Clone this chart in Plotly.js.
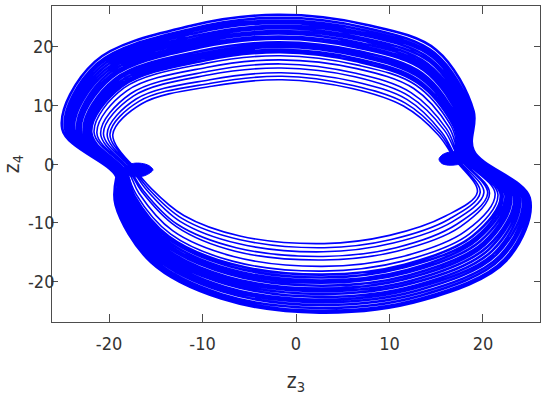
<!DOCTYPE html>
<html>
<head>
<meta charset="utf-8">
<script src="https://cdn.plot.ly/plotly-3.0.1.min.js"></script>
<style>html,body{margin:0;padding:0;background:#fff;}#chart{width:550px;height:409px;}</style>
</head>
<body>
<div id="chart"></div>
<script>
// trajectory (z3, z4): one loop per row = left knot, upper arc, right knot, lower arc
// inner, well separated loops
const innerZ3 = [
-17.3,-19.6,-16.5,-9.0,-1.5,6.0,11.5,15.2,17.0,19.4,16.0,10.0,3.0,-6.0,-12.0,-15.6,
-17.4,-19.9,-16.8,-9.1,-1.5,6.1,11.7,15.4,17.1,19.7,16.4,10.2,3.0,-6.1,-12.2,-15.8,
-17.5,-20.2,-17.1,-9.2,-1.6,6.2,11.9,15.6,17.2,20.1,16.8,10.4,2.9,-6.2,-12.4,-16.0,
-17.6,-20.6,-17.4,-9.4,-1.6,6.3,12.1,15.9,17.4,20.5,17.2,10.7,2.9,-6.4,-12.7,-16.3,
-17.8,-20.9,-17.7,-9.5,-1.6,6.4,12.3,16.1,17.5,20.7,17.6,10.8,2.9,-6.5,-12.8,-16.5,
-17.9,-21.3,-18.1,-9.6,-1.7,6.5,12.6,16.4,17.6,21.3,18.2,11.2,2.8,-6.7,-13.2,-16.8,
-18.0,-21.6,-18.4,-9.7,-1.7,6.6,12.8,16.6,17.7,21.6,18.6,11.4,2.8,-6.8,-13.4,-17.1,
-18.1
];
const innerZ4 = [
-0.5,5.0,10.3,13.3,14.4,12.9,9.9,5.0,0.8,-4.8,-8.9,-12.2,-13.6,-12.3,-8.8,-4.0,
-0.6,5.1,10.7,13.8,15.0,13.4,10.4,5.2,0.9,-4.9,-9.4,-12.9,-14.3,-12.9,-9.3,-4.2,
-0.7,5.1,11.1,14.4,15.6,14.1,11.0,5.4,1.0,-4.9,-9.8,-13.5,-15.0,-13.6,-9.8,-4.4,
-0.8,5.2,11.6,15.2,16.4,14.9,11.6,5.7,1.1,-5.0,-10.3,-14.3,-15.8,-14.3,-10.3,-4.6,
-0.9,5.2,12.0,15.8,17.1,15.5,12.2,6.0,1.2,-5.0,-10.7,-14.9,-16.4,-14.9,-10.7,-4.7,
-1.0,5.3,12.5,16.5,17.8,16.3,12.9,6.2,1.3,-5.1,-11.4,-15.9,-17.5,-15.8,-11.4,-5.0,
-1.1,5.4,13.0,17.2,18.5,16.9,13.5,6.5,1.4,-5.2,-11.9,-16.6,-18.3,-16.6,-12.0,-5.2,
-1.2
];
// outer, densely packed loops
const bandZ3 = [
-18.1,-21.9,-18.6,-9.8,-1.7,6.6,13.0,16.8,17.8,21.9,18.9,11.6,2.8,-6.9,-13.6,-17.3,
-18.2,-22.1,-18.8,-9.9,-1.7,6.7,13.1,17.0,17.9,22.1,19.2,11.7,2.8,-7.0,-13.7,-17.4,
-18.3,-22.3,-19.0,-10.0,-1.8,6.8,13.3,17.1,18.0,22.4,19.4,11.9,2.7,-7.1,-13.9,-17.6,
-18.3,-22.5,-19.2,-10.1,-1.8,6.8,13.4,17.3,18.1,22.6,19.7,12.0,2.7,-7.1,-14.0,-17.7,
-18.4,-22.7,-19.4,-10.2,-1.8,6.9,13.5,17.4,18.2,22.8,20.0,12.1,2.7,-7.2,-14.1,-17.9,
-18.5,-23.0,-19.7,-10.3,-1.8,6.9,13.7,17.6,18.3,23.0,20.2,12.3,2.7,-7.3,-14.3,-18.0,
-18.6,-23.2,-19.9,-10.3,-1.8,7.0,13.9,17.7,18.3,23.3,20.5,12.4,2.7,-7.4,-14.4,-18.2,
-18.7,-23.4,-20.1,-10.4,-1.9,7.1,14.0,17.9,18.4,23.5,20.7,12.6,2.6,-7.5,-14.6,-18.3,
-18.7,-23.7,-20.3,-10.5,-1.9,7.1,14.1,18.1,18.5,23.7,21.0,12.7,2.6,-7.5,-14.7,-18.4,
-18.8,-23.9,-20.5,-10.6,-1.9,7.2,14.3,18.2,18.6,23.9,21.3,12.8,2.6,-7.6,-14.8,-18.6,
-18.9,-24.1,-20.7,-10.7,-1.9,7.2,14.4,18.4,18.7,24.2,21.5,13.0,2.6,-7.7,-15.0,-18.7,
-19.0,-24.3,-20.9,-10.7,-1.9,7.3,14.6,18.5,18.7,24.4,21.8,13.1,2.6,-7.8,-15.1,-18.9,
-19.0,-24.5,-21.1,-10.8,-2.0,7.4,14.7,18.7,18.8,24.6,22.0,13.3,2.5,-7.9,-15.3,-19.0,
-19.1,-24.7,-21.3,-10.9,-2.0,7.4,14.8,18.8,18.9,24.8,22.3,13.4,2.5,-7.9,-15.4,-19.2,
-19.2,-25.0,-21.5,-11.0,-2.0,7.5,15.0,19.0,19.0,25.0,22.5,13.5,2.5,-8.0,-15.5,-19.3,
-19.2
];
const bandZ4 = [
-1.2,5.4,13.3,17.7,19.1,17.5,13.9,6.7,1.4,-5.3,-12.3,-17.2,-18.9,-17.1,-12.4,-5.4,
-1.3,5.5,13.6,18.1,19.5,17.9,14.3,6.8,1.5,-5.3,-12.6,-17.6,-19.4,-17.5,-12.7,-5.5,
-1.4,5.5,13.9,18.5,20.0,18.4,14.7,7.0,1.6,-5.3,-12.9,-18.1,-19.9,-18.0,-13.0,-5.6,
-1.4,5.5,14.2,18.9,20.4,18.8,15.1,7.2,1.6,-5.4,-13.2,-18.5,-20.3,-18.4,-13.4,-5.7,
-1.5,5.6,14.5,19.3,20.8,19.2,15.5,7.3,1.7,-5.4,-13.5,-19.0,-20.8,-18.8,-13.7,-5.8,
-1.6,5.6,14.8,19.9,21.4,19.8,16.0,7.5,1.7,-5.5,-13.8,-19.4,-21.3,-19.3,-14.0,-6.0,
-1.6,5.7,15.1,20.3,21.8,20.2,16.3,7.7,1.8,-5.5,-14.1,-19.9,-21.7,-19.7,-14.3,-6.1,
-1.7,5.7,15.4,20.7,22.3,20.6,16.7,7.8,1.9,-5.5,-14.5,-20.3,-22.2,-20.1,-14.6,-6.2,
-1.8,5.8,15.7,21.1,22.7,21.1,17.1,8.0,1.9,-5.6,-14.8,-20.8,-22.7,-20.5,-15.0,-6.3,
-1.8,5.8,16.0,21.5,23.2,21.5,17.5,8.2,2.0,-5.6,-15.1,-21.2,-23.2,-21.0,-15.3,-6.4,
-1.9,5.8,16.3,21.9,23.6,22.0,17.9,8.3,2.0,-5.7,-15.4,-21.6,-23.6,-21.4,-15.6,-6.6,
-2.0,5.9,16.6,22.4,24.1,22.4,18.3,8.5,2.1,-5.7,-15.7,-22.1,-24.1,-21.8,-15.9,-6.7,
-2.1,5.9,16.9,22.8,24.5,22.8,18.6,8.6,2.2,-5.7,-16.0,-22.5,-24.6,-22.3,-16.2,-6.8,
-2.1,6.0,17.1,23.2,25.0,23.3,19.0,8.8,2.2,-5.8,-16.3,-23.0,-25.1,-22.7,-16.6,-6.9,
-2.2,6.0,17.5,23.7,25.5,23.8,19.5,9.0,2.3,-5.8,-16.5,-23.3,-25.4,-23.0,-16.8,-7.0,
-2.2
];
// small knots at the two crossing points
const knotLeftZ3  = [-15.3,-15.7,-16.5,-17.4,-18.2,-18.6,-18.1,-17.2,-16.2,-15.6,-15.3];
const knotLeftZ4  = [-1.0,-0.3,0.1,0.1,-0.4,-1.1,-1.8,-2.2,-2.0,-1.5,-1.0];
const knotRightZ3 = [15.3,15.6,16.3,17.3,18.2,18.7,18.3,17.4,16.3,15.6,15.3];
const knotRightZ4 = [0.8,0.1,-0.2,-0.1,0.3,1.0,1.7,2.1,2.0,1.5,0.8];

const xTicks = [-20,-10,0,10,20];
const yTicks = [-20,-10,0,10,20];

const blue = '#0000ff';
const textColor = '#333333';
const fontFam = '"DejaVu Sans Condensed","Liberation Sans Narrow",sans-serif';

const traces = [
  {x: bandZ3, y: bandZ4, mode: 'lines', line: {color: blue, width: 2.6, shape: 'spline', smoothing: 1}, hoverinfo: 'skip'},
  {x: innerZ3, y: innerZ4, mode: 'lines', line: {color: blue, width: 1.6, shape: 'spline', smoothing: 1}, hoverinfo: 'skip'},
  {x: knotLeftZ3, y: knotLeftZ4, mode: 'lines', fill: 'toself', fillcolor: blue, line: {color: blue, width: 1, shape: 'spline'}, hoverinfo: 'skip'},
  {x: knotRightZ3, y: knotRightZ4, mode: 'lines', fill: 'toself', fillcolor: blue, line: {color: blue, width: 1, shape: 'spline'}, hoverinfo: 'skip'}
];

const axisCommon = {
  showgrid: false, zeroline: false, showline: true, linecolor: '#4d4d4d', linewidth: 1,
  ticks: 'inside', mirror: 'allticks', tickcolor: '#4d4d4d', tickwidth: 1, automargin: false,
  tickfont: {family: fontFam, size: 18, color: textColor}
};

// y tick labels placed as annotations so they sit close to the frame
const yLabelNotes = yTicks.map(function (v) {
  return {xref: 'paper', yref: 'y', x: 0, y: v, xanchor: 'right', yanchor: 'middle',
          xshift: 4, text: String(v), showarrow: false,
          font: {family: fontFam, size: 18, color: textColor}};
});

const layout = {
  width: 550, height: 409,
  margin: {l: 52, r: 10, t: 6, b: 87},
  paper_bgcolor: '#ffffff', plot_bgcolor: '#ffffff',
  showlegend: false,
  annotations: yLabelNotes,
  xaxis: Object.assign({}, axisCommon, {
    range: [-26.1, 26.1], tickvals: xTicks, ticktext: xTicks.map(String), ticklen: 8,
    ticklabelstandoff: 5,
    title: {text: 'z<sub>3</sub>', font: {family: fontFam, size: 21, color: textColor}, standoff: 20}
  }),
  yaxis: Object.assign({}, axisCommon, {
    range: [-27, 27], tickvals: yTicks, showticklabels: false, ticklen: 6,
    title: {text: 'z<sub>4</sub>', font: {family: fontFam, size: 21, color: textColor}, standoff: 30}
  })
};

Plotly.newPlot('chart', traces, layout, {staticPlot: true, displayModeBar: false});
</script>
</body>
</html>
